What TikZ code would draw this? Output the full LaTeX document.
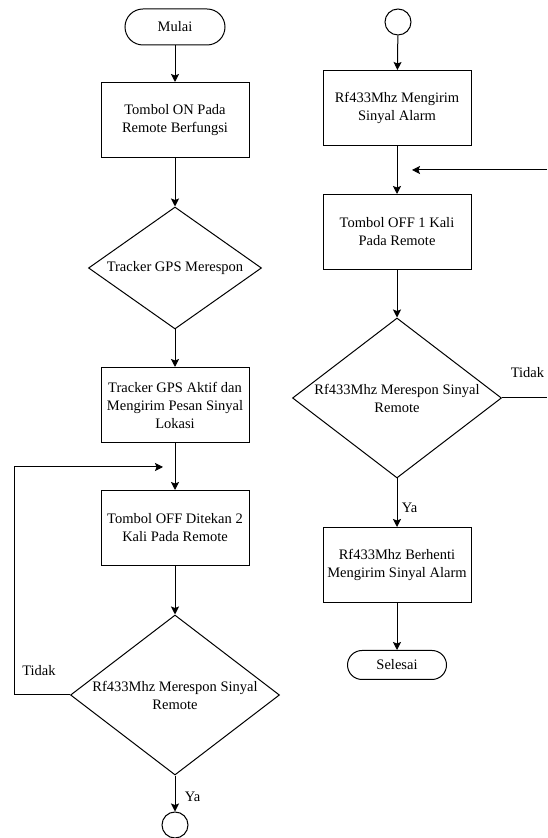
\documentclass[tikz,border=0pt]{standalone}
\usepackage{fontspec}
\setmainfont{Liberation Serif}
\newfontfamily\flowfont{Liberation Serif}
\usepackage{tikz}
\usetikzlibrary{arrows.meta, shapes, positioning}
\usepackage{xcolor}
\tikzset{processbox/.style={rectangle, draw=black, line width=1pt, minimum width=148pt, minimum height=75pt, align=center, inner sep=2pt},terminalnode/.style={rounded rectangle, draw=black, line width=1pt, minimum width=100pt, minimum height=36pt, inner sep=0pt}}
\tikzset{decisionnode/.style={diamond, draw=black, line width=1pt, inner sep=0pt},connectornode/.style={circle, draw=black, line width=1pt, minimum size=26pt, inner sep=0pt}}
\tikzset{flowarrow/.style={-{Stealth[length=8pt, width=8pt, inset=1.5pt]}, line width=1pt}}

\begin{document}
\begin{tikzpicture}[
        line join=miter,
        font=\flowfont\fontsize{14.5}{18}\selectfont,
        flowline/.style={line width=1pt},
    ]
        \useasboundingbox (0pt, 0pt) rectangle (547pt, 838pt);
        % Left column
        \node[terminalnode] (mulai) at (175pt, 811pt) {Mulai};
        \node[processbox] (tombolon) at (175pt, 718pt) {Tombol ON Pada\\Remote Berfungsi};
        \node[decisionnode, minimum width=173pt, minimum height=122pt,
              label={center:Tracker GPS Merespon}] (gpsrespon) at (175pt, 570pt) {};
        \node[processbox] (gpsaktif) at (175pt, 433pt) {Tracker GPS Aktif dan\\Mengirim Pesan Sinyal\\Lokasi};
        \node[processbox] (tomboloff2) at (175pt, 310pt) {Tombol OFF Ditekan 2\\Kali Pada Remote};
        \node[decisionnode, minimum width=209pt, minimum height=160pt,
              label={[align=center]center:Rf433Mhz Merespon Sinyal\\Remote}] (rfrespon1) at (175pt, 143pt) {};
        \node[connectornode] (conA) at (175pt, 13pt) {};
        % Right column
        \node[connectornode] (conB) at (398pt, 816pt) {};
        \node[processbox] (rfkirim) at (397pt, 730pt) {Rf433Mhz Mengirim\\Sinyal Alarm};
        \node[processbox] (tomboloff1) at (397pt, 606pt) {Tombol OFF 1 Kali\\Pada Remote};
        \node[decisionnode, minimum width=209pt, minimum height=160pt,
              label={[align=center]center:Rf433Mhz Merespon Sinyal\\Remote}] (rfrespon2) at (397pt, 440pt) {};
        \node[processbox] (rfhenti) at (397pt, 273pt) {Rf433Mhz Berhenti\\Mengirim Sinyal Alarm};
        \node[terminalnode, minimum width=99pt, minimum height=29pt] (selesai) at (397pt, 173pt) {Selesai};
        % Loop points
        \coordinate (loopleft) at (163pt, 371pt);
        \coordinate (loopright) at (412pt, 668pt);
        \coordinate (edgetop) at (547pt, 668pt);
        \coordinate (edgebottom) at (547pt, 440pt);
        % Arrows
        \draw[flowarrow] (mulai) -- (tombolon);
        \draw[flowarrow] (tombolon) -- (gpsrespon);
        \draw[flowarrow] (gpsrespon) -- (gpsaktif);
        \draw[flowarrow] (gpsaktif) -- (tomboloff2);
        \draw[flowarrow] (tomboloff2) -- (rfrespon1);
        \draw[flowarrow] (rfrespon1) -- node[right, xshift=6pt, yshift=-3pt] (yakiri) {Ya} (conA);
        \draw[flowarrow] (rfrespon1.west) -- ++(-56pt, 0pt) node[above, xshift=25pt, yshift=16pt] (tidakkiri) {Tidak} |- (loopleft);
        \draw[flowarrow] (conB) -- (rfkirim);
        \draw[flowarrow] (rfkirim) -- (tomboloff1);
        \draw[flowarrow] (edgetop) -- (loopright);
        \draw[flowarrow] (tomboloff1) -- (rfrespon2);
        \draw[flowline] (rfrespon2.east) -- (edgebottom) node[above left, xshift=1pt, yshift=17pt] (tidakkanan) {Tidak};
        \draw[flowarrow] (rfrespon2) -- node[right, xshift=1pt, yshift=-5pt] (yakanan) {Ya} (rfhenti);
        \draw[flowarrow] (rfhenti) -- (selesai);
    \end{tikzpicture}
\end{document}
